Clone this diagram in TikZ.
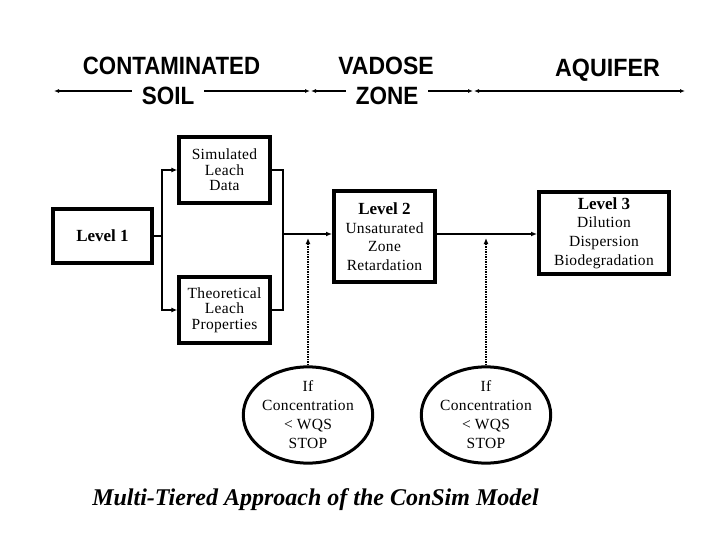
\documentclass[tikz,border=0pt]{standalone}
\usepackage{graphicx}
\usepackage{fontspec}
\setmainfont{Liberation Serif}
\newfontfamily\headfont{Liberation Sans}
\newfontfamily\bodyfont[LetterSpace=2]{Liberation Serif}
\newcommand\lvlfontA{\rmfamily\bfseries\fontsize{17}{18.6}\selectfont}
\usetikzlibrary{arrows.meta,shapes.geometric}
\begin{document}
\begin{tikzpicture}[x=1pt,y=-1pt,
  head/.style={font=\headfont\bfseries\fontsize{25}{26}\selectfont, inner sep=0pt},
  gaplabel/.style={head, fill=white, inner xsep=10pt, inner ysep=2pt},
  toparrow/.style={line width=1.6pt, {Latex[length=5pt,width=4pt]}-{Latex[length=5pt,width=4pt]}},
  smallbox/.style={draw, line width=3.4pt, inner sep=0pt, align=center,
    font=\bodyfont\fontsize{15.5}{15.5}\selectfont},
  lvlbox/.style={draw, line width=4pt, inner sep=0pt, align=center,
    font=\bodyfont\fontsize{15.5}{18.6}\selectfont},
  stopell/.style={draw, ellipse, line width=3pt, inner sep=0pt, align=center,
    font=\bodyfont\fontsize{15.5}{19}\selectfont},
  conn/.style={line width=2pt},
  arr/.style={conn, -{Latex[length=6pt,width=5pt]}},
  dotarr/.style={line width=2pt, dash pattern=on 1.5pt off 1pt, -{Latex[length=6pt,width=5pt]}, shorten >=4pt},
  titlef/.style={font=\rmfamily\bfseries\itshape\fontsize{24}{26}\selectfont, inner sep=0pt}
]
\useasboundingbox (0,0) rectangle (720,540);

% top zone arrows
\coordinate (a0) at (54,91);
\coordinate (a1) at (310,91);
\coordinate (a2) at (311,91);
\coordinate (a3) at (473,91);
\coordinate (a4) at (474,91);
\coordinate (a5) at (685,91);
\draw[toparrow] (a0) -- (a1);
\draw[toparrow] (a2) -- (a3);
\draw[toparrow] (a4) -- (a5);

\node[head] (contam) at (171.5,66) {\scalebox{0.89}[1]{CONTAMINATED}};
\node[gaplabel] (soil) at (168,96) {\scalebox{0.9}[1]{SOIL}};
\node[head] (vadose) at (386,66) {\scalebox{0.92}[1]{VADOSE}};
\node[gaplabel] (zone) at (387,96) {\scalebox{0.9}[1]{ZONE}};
\node[head] (aquifer) at (607.5,70.5) {\scalebox{0.93}[1]{AQUIFER}};

% boxes
\node[lvlbox, minimum width=99pt, minimum height=54pt] (L1) at (102.5,236) {\lvlfontA Level 1};
\node[smallbox, minimum width=91pt, minimum height=66pt] (sim) at (224.5,170) {Simulated\\Leach\\Data};
\node[smallbox, minimum width=91pt, minimum height=66pt] (theo) at (224.5,310) {Theoretical\\Leach\\Properties};
\node[lvlbox, minimum width=101pt, minimum height=91pt] (L2) at (384.5,236.5) {{\lvlfontA Level 2}\\Unsaturated\\Zone\\Retardation};
\node[lvlbox, minimum width=130pt, minimum height=82pt] (L3) at (604,233) {{\lvlfontA Level 3}\\Dilution\\Dispersion\\Biodegradation};

\node[stopell, minimum width=126pt, minimum height=86pt] (E1) at (308,415) {If\\Concentration\\{<} WQS\\STOP};
\node[stopell, minimum width=128pt, minimum height=86pt] (E2) at (486,415) {If\\Concentration\\{<} WQS\\STOP};

% connectors
\coordinate (b1) at (162,236);
\coordinate (m) at (283,234);
\draw[conn] (L1.east) -- (b1);
\draw[arr] (b1) |- (sim.west);
\draw[arr] (b1) |- (theo.west);
\draw[conn] (sim.east) -| (m);
\draw[conn] (theo.east) -| (m);
\draw[arr] (m) -- (m -| L2.west);
\draw[arr] (L2.east |- m) -- (L3.west |- m);
\draw[dotarr] (E1.north) -- (E1.north |- m);
\draw[dotarr] (E2.north) -- (E2.north |- m);

\node[titlef, anchor=base] (title) at (315.5,505) {Multi-Tiered Approach of the ConSim Model};
\end{tikzpicture}
\end{document}
